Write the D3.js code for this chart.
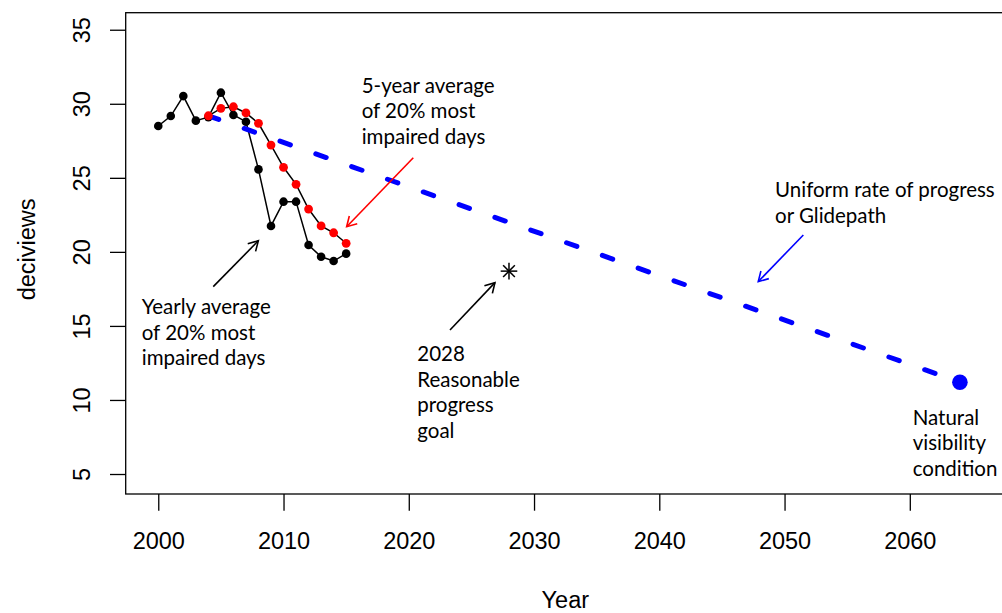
<!DOCTYPE html>
<html>
<head>
<meta charset="utf-8">
<script src="https://cdn.jsdelivr.net/npm/d3@7"></script>
<style>body{margin:0;background:#fff}</style>
</head>
<body>
<svg id="c" width="1002" height="613"></svg>
<script>
// ---- data ----
const yearlyYears  = [2000,2001,2002,2003,2004,2005,2006,2007,2008,2009,2010,2011,2012,2013,2014,2015];
const yearlyValues = [28.50,29.17,30.52,28.86,29.10,30.75,29.24,28.79,25.57,21.75,23.39,23.39,20.46,19.67,19.38,19.88];
const avgYears     = [2004,2005,2006,2007,2008,2009,2010,2011,2012,2013,2014,2015];
const avgValues    = [29.19,29.69,29.80,29.38,28.68,27.21,25.71,24.56,22.89,21.75,21.29,20.58];
const glideYears   = [2004,2064];
const glideValues  = [29.19,11.2];
const goalYears    = [2028];
const goalValues   = [18.7];
const naturalYears = [2064];
const naturalValues= [11.2];
const xTicks = [2000,2010,2020,2030,2040,2050,2060];
const yTicks = [5,10,15,20,25,30,35];
const xTitle = "Year";
const yTitle = "deciviews";

// annotation texts (anchor in data units)
const notes = [
  {lines:["Yearly average","of 20% most","impaired days"], x:1998.68, y:15.78},
  {lines:["5-year average","of 20% most","impaired days"], x:2016.24, y:30.75},
  {lines:["Uniform rate of progress","or Glidepath"], x:2049.24, y:23.68},
  {lines:["2028","Reasonable","progress","goal"], x:2020.68, y:12.63},
  {lines:["Natural","visibility","condition"], x:2060.23, y:8.31}
];
const arrows = [
  {x1:2004.39, y1:17.65, x2:2007.99, y2:20.75, color:"#000"},
  {x1:2020.36, y1:26.36, x2:2015.04, y2:21.70, color:"#ff0000"},
  {x1:2051.5,  y1:21.14, x2:2047.9,  y2:17.99, color:"#0000ff"},
  {x1:2023.29, y1:14.72, x2:2026.88, y2:17.92, color:"#000"}
];

// ---- chart ----
const svg = d3.select("#c");
const x = d3.scaleLinear().domain([1997.4, 2067.6]).range([125.7, 1005]);
const y = d3.scaleLinear().domain([3.65, 36.15]).range([494, 12.7]);
const axisFont = "'Liberation Sans', Arial, sans-serif";
const noteFont = "Lato, 'Open Sans', sans-serif";

svg.append("rect")
  .attr("x", x.range()[0]).attr("y", y.range()[1])
  .attr("width", x.range()[1]-x.range()[0]).attr("height", y.range()[0]-y.range()[1])
  .attr("fill","none").attr("stroke","#000").attr("stroke-width",1.3);

const xa = svg.append("g").attr("transform",`translate(0,${y.range()[0]})`)
  .call(d3.axisBottom(x).tickValues(xTicks).tickSize(16.7).tickFormat(d3.format("d")));
xa.select(".domain").remove();
xa.selectAll("line").attr("stroke","#000").attr("stroke-width",1.3);
xa.selectAll("text").attr("y",55).attr("dy",null)
  .attr("font-family",axisFont).attr("font-size",23.5).attr("fill","#000");

const ya = svg.append("g").attr("transform",`translate(${x.range()[0]},0)`)
  .call(d3.axisLeft(y).tickValues(yTicks).tickSize(15.7));
ya.select(".domain").remove();
ya.selectAll("line").attr("stroke","#000").attr("stroke-width",1.3);
ya.selectAll("text").attr("x",0).attr("dy",null).attr("y",-35.7)
  .attr("transform","rotate(-90)").attr("text-anchor","middle")
  .attr("font-family",axisFont).attr("font-size",23.5).attr("fill","#000");

svg.append("text").attr("x",(x.range()[0]+x.range()[1])/2).attr("y",608)
  .attr("text-anchor","middle").attr("font-family",axisFont).attr("font-size",23.5).text(xTitle);
svg.append("text").attr("transform",`translate(35,${(y.range()[0]+y.range()[1])/2 - 4}) rotate(-90)`)
  .attr("text-anchor","middle").attr("font-family",axisFont).attr("font-size",23.5).text(yTitle);

const line = d3.line().x(d=>x(d[0])).y(d=>y(d[1]));

// yearly series
const yearly = yearlyYears.map((t,i)=>[t,yearlyValues[i]]);
svg.append("path").attr("d",line(yearly)).attr("fill","none").attr("stroke","#000").attr("stroke-width",1.5);
svg.append("g").selectAll("circle").data(yearly).join("circle")
  .attr("cx",d=>x(d[0])).attr("cy",d=>y(d[1])).attr("r",4.3).attr("fill","#000");

// glidepath
const glide = glideYears.map((t,i)=>[t,glideValues[i]]);
svg.append("path").attr("d",line(glide)).attr("fill","none").attr("stroke","#0000ff")
  .attr("stroke-width",5).attr("stroke-linecap","round").attr("stroke-dasharray","11,27");

// 5-year average
const avg = avgYears.map((t,i)=>[t,avgValues[i]]);
svg.append("path").attr("d",line(avg)).attr("fill","none").attr("stroke","#000").attr("stroke-width",1.5);
svg.append("g").selectAll("circle").data(avg).join("circle")
  .attr("cx",d=>x(d[0])).attr("cy",d=>y(d[1])).attr("r",4.4).attr("fill","#ff0000");

// natural condition
svg.append("g").selectAll("circle").data(naturalYears.map((t,i)=>[t,naturalValues[i]])).join("circle")
  .attr("cx",d=>x(d[0])).attr("cy",d=>y(d[1])).attr("r",7.8).attr("fill","#0000ff");

// goal star (pch 8)
const star = svg.append("g").selectAll("g").data(goalYears.map((t,i)=>[t,goalValues[i]])).join("g")
  .attr("transform",d=>`translate(${x(d[0])},${y(d[1])})`);
[0,45,90,135].forEach(a=>{
  const r=8.3, rad=a*Math.PI/180;
  star.append("line").attr("x1",-r*Math.cos(rad)).attr("y1",-r*Math.sin(rad))
    .attr("x2",r*Math.cos(rad)).attr("y2",r*Math.sin(rad))
    .attr("stroke","#000").attr("stroke-width",1.5);
});

// arrows
arrows.forEach(a=>{
  const X1=x(a.x1),Y1=y(a.y1),X2=x(a.x2),Y2=y(a.y2);
  const ang=Math.atan2(Y2-Y1,X2-X1), L=11, h=Math.PI/6;
  svg.append("line").attr("x1",X1).attr("y1",Y1).attr("x2",X2).attr("y2",Y2)
    .attr("stroke",a.color).attr("stroke-width",1.6);
  svg.append("path")
    .attr("d",`M${X2-L*Math.cos(ang-h)},${Y2-L*Math.sin(ang-h)}L${X2},${Y2}L${X2-L*Math.cos(ang+h)},${Y2-L*Math.sin(ang+h)}`)
    .attr("fill","none").attr("stroke",a.color).attr("stroke-width",1.6);
});

// notes
notes.forEach(n=>{
  const t = svg.append("text").attr("font-family",noteFont).attr("font-size",20.5).attr("fill","#000");
  n.lines.forEach((s,i)=>{
    t.append("tspan").attr("x",x(n.x)).attr("y",y(n.y)+i*25.5).text(s);
  });
});
</script>
</body>
</html>
